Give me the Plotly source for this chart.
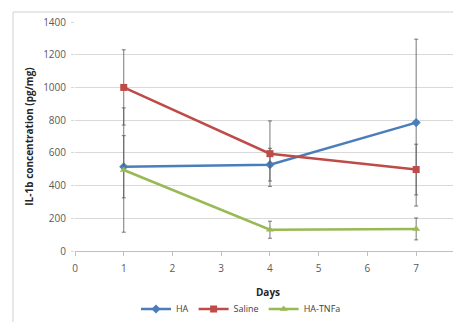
import plotly.graph_objects as go

days = [1, 4, 7]
ha = [515, 528, 785]
ha_err = [190, 100, 510]
saline = [1000, 595, 498]
saline_err = [230, 200, 155]
tnfa = [495, 130, 135]
tnfa_err = [380, 52, 67]
x_ticks = [0, 1, 2, 3, 4, 5, 6, 7]
y_ticks = [0, 200, 400, 600, 800, 1000, 1200, 1400]

series = [
    ("HA", ha, ha_err, "#4A7EBB", "diamond"),
    ("Saline", saline, saline_err, "#BE4B48", "square"),
    ("HA-TNFa", tnfa, tnfa_err, "#98B954", "triangle-up"),
]

fig = go.Figure()
for name, vals, errs, col, sym in series:
    fig.add_trace(go.Scatter(
        x=days, y=vals, name=name, mode="lines+markers",
        line=dict(color=col, width=2.5),
        marker=dict(color=col, symbol=sym, size=7),
        error_y=dict(type="data", array=errs, visible=True,
                     color="#555555", thickness=0.8, width=2),
    ))

font = "Open Sans, Liberation Sans, sans-serif"
fig.update_layout(
    width=453, height=314,
    margin=dict(l=67, r=0, t=14, b=71, autoexpand=False),
    paper_bgcolor="white", plot_bgcolor="white",
    font=dict(family=font, size=10, color="#595959"),
    showlegend=True,
    legend=dict(orientation="h", x=0.43, xanchor="center", y=-0.253, yanchor="middle",
                font=dict(size=9, color="#404040"), itemwidth=30,
                tracegroupgap=0, bgcolor="rgba(0,0,0,0)"),
    xaxis=dict(range=[0, 7.92], tickvals=x_ticks, showgrid=False, automargin=False,
               showline=True, linecolor="#BFBFBF", linewidth=1,
               ticks="outside", ticklen=4, tickcolor="#BFBFBF", ticklabelstandoff=4,
               zeroline=False, tickfont=dict(size=10, color="#595959"),
               title=dict(text="<b>Days</b>", font=dict(size=10, color="#262626"), standoff=14)),
    yaxis=dict(range=[0, 1400], tickvals=y_ticks, showgrid=True, automargin=False,
               gridcolor="#D9D9D9", gridwidth=1, zeroline=False,
               showline=False, ticks="outside", ticklen=3, tickcolor="#D9D9D9",
               ticklabelstandoff=3,
               tickfont=dict(size=10, color="#595959"),
               title=dict(text="<b>IL-1b concentration (pg/mg)</b>",
                          font=dict(size=10, color="#262626"), standoff=7)),
    shapes=[dict(type="rect", xref="paper", yref="paper",
                 x0=-62/386, x1=1.2, y0=-0.5, y1=1 + 10/229,
                 line=dict(color="#D0D0D0", width=1), layer="below")],
)

fig.write_html("out.html")
